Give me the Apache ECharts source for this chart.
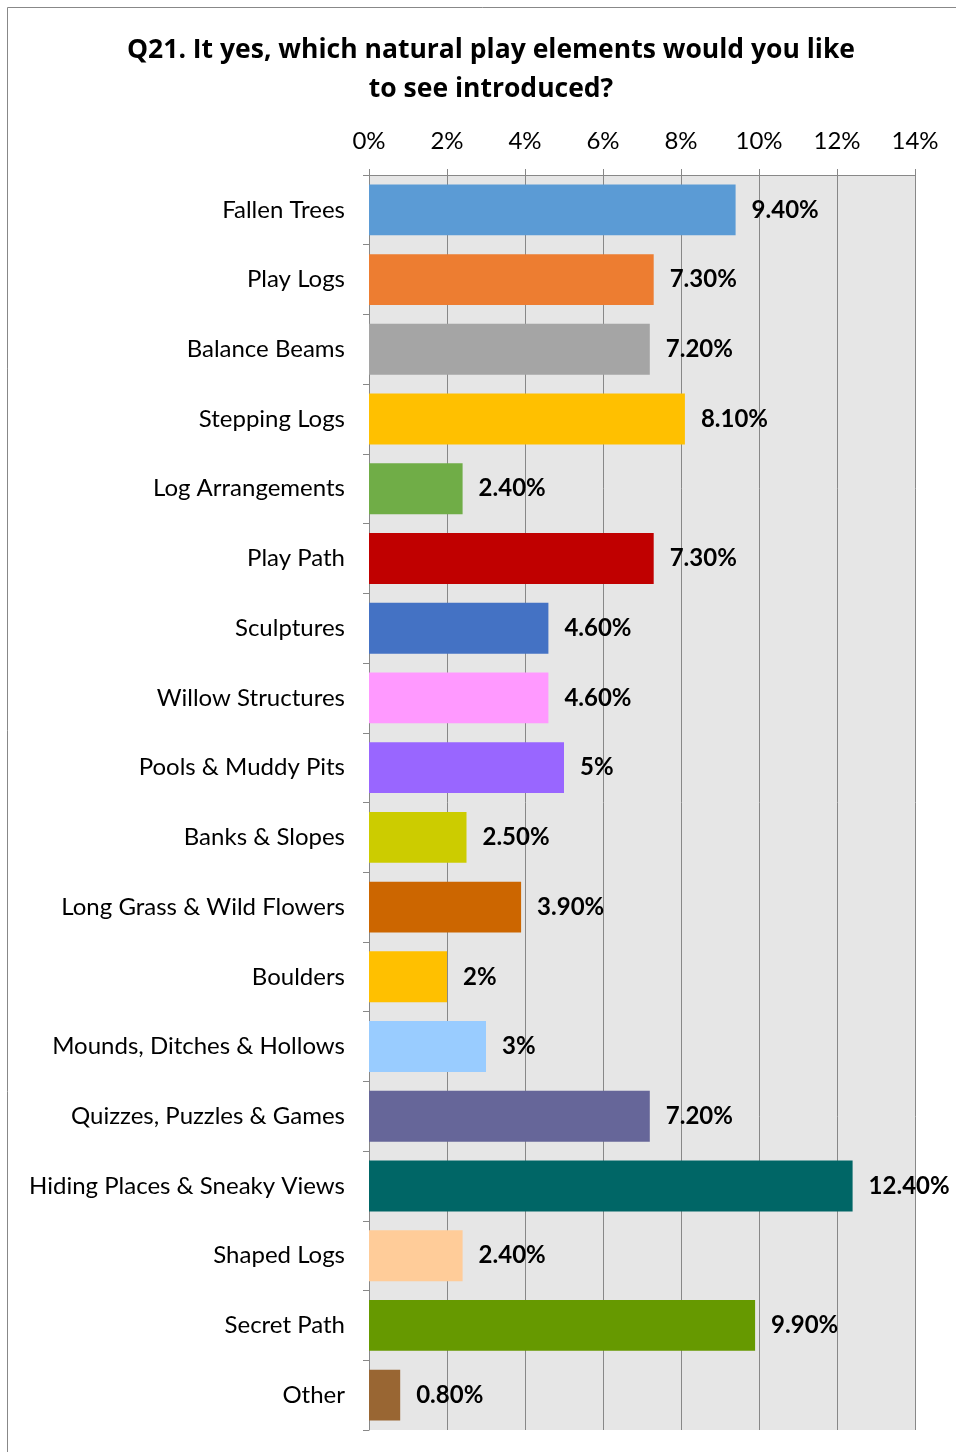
<!DOCTYPE html>
<html><head><meta charset="utf-8">
<script src="https://cdn.jsdelivr.net/npm/echarts@6/dist/echarts.min.js"></script>
<style>html,body{margin:0;padding:0;background:#fff}#c{width:956px;height:1452px}</style>
</head><body><div id="c"></div>
<script>
const categories = ["Fallen Trees","Play Logs","Balance Beams","Stepping Logs","Log Arrangements","Play Path","Sculptures","Willow Structures","Pools & Muddy Pits","Banks & Slopes","Long Grass & Wild Flowers","Boulders","Mounds, Ditches & Hollows","Quizzes, Puzzles & Games","Hiding Places & Sneaky Views","Shaped Logs","Secret Path","Other"];
const values = [9.4,7.3,7.2,8.1,2.4,7.3,4.6,4.6,5,2.5,3.9,2,3,7.2,12.4,2.4,9.9,0.8];
const valueLabels = ["9.40%","7.30%","7.20%","8.10%","2.40%","7.30%","4.60%","4.60%","5%","2.50%","3.90%","2%","3%","7.20%","12.40%","2.40%","9.90%","0.80%"];
const barColors = ["#5B9BD5","#ED7D31","#A5A5A5","#FFC000","#70AD47","#C00000","#4472C4","#FF99FF","#9966FF","#CCCC00","#CC6600","#FFC000","#99CCFF","#666699","#006666","#FFCC99","#669900","#996633"];
const xTicks = [0,2,4,6,8,10,12,14];

const FONT = "Lato, 'Open Sans', sans-serif";
const chart = echarts.init(document.getElementById('c'), null, {renderer:'canvas'});
chart.setOption({
  animation:false,
  backgroundColor:'#fff',
  title:{
    text:'Q21. It yes, which natural play elements would you like\nto see introduced?',
    left:486, top:26, textAlign:'center',
    textStyle:{fontFamily:"'Open Sans', sans-serif",fontSize:26.5,fontWeight:'bold',color:'#000',lineHeight:39}
  },
  graphic:[{type:'rect',shape:{x:7.5,y:7.5,width:1000,height:1500},style:{fill:'none',stroke:'#888',lineWidth:1},silent:true}],
  grid:{left:369,top:175,width:546,height:1255,containLabel:false,backgroundColor:'#E6E6E6',show:true,borderWidth:0},
  xAxis:{
    type:'value',position:'top',min:xTicks[0],max:xTicks[xTicks.length-1],interval:2,
    axisLabel:{formatter:'{value}%',fontFamily:FONT,fontSize:24,color:'#000',margin:22},
    axisLine:{show:true,lineStyle:{color:'#888'}},
    axisTick:{show:true,length:6,lineStyle:{color:'#888'}},
    splitLine:{show:true,lineStyle:{color:'#888',width:1}}
  },
  yAxis:{
    type:'category',data:categories,inverse:true,
    axisLabel:{fontFamily:FONT,fontSize:24,color:'#000',margin:24},
    axisLine:{show:true,lineStyle:{color:'#888'}},
    axisTick:{show:true,length:6,lineStyle:{color:'#888'}}
  },
  series:[{
    type:'bar',barCategoryGap:'27%',
    data:values.map((v,i)=>({value:v,itemStyle:{color:barColors[i]}})),
    label:{show:true,position:'right',distance:16,fontFamily:FONT,fontSize:24,fontWeight:'bold',color:'#000',
      formatter:p=>valueLabels[p.dataIndex]}
  }]
});
</script></body></html>
